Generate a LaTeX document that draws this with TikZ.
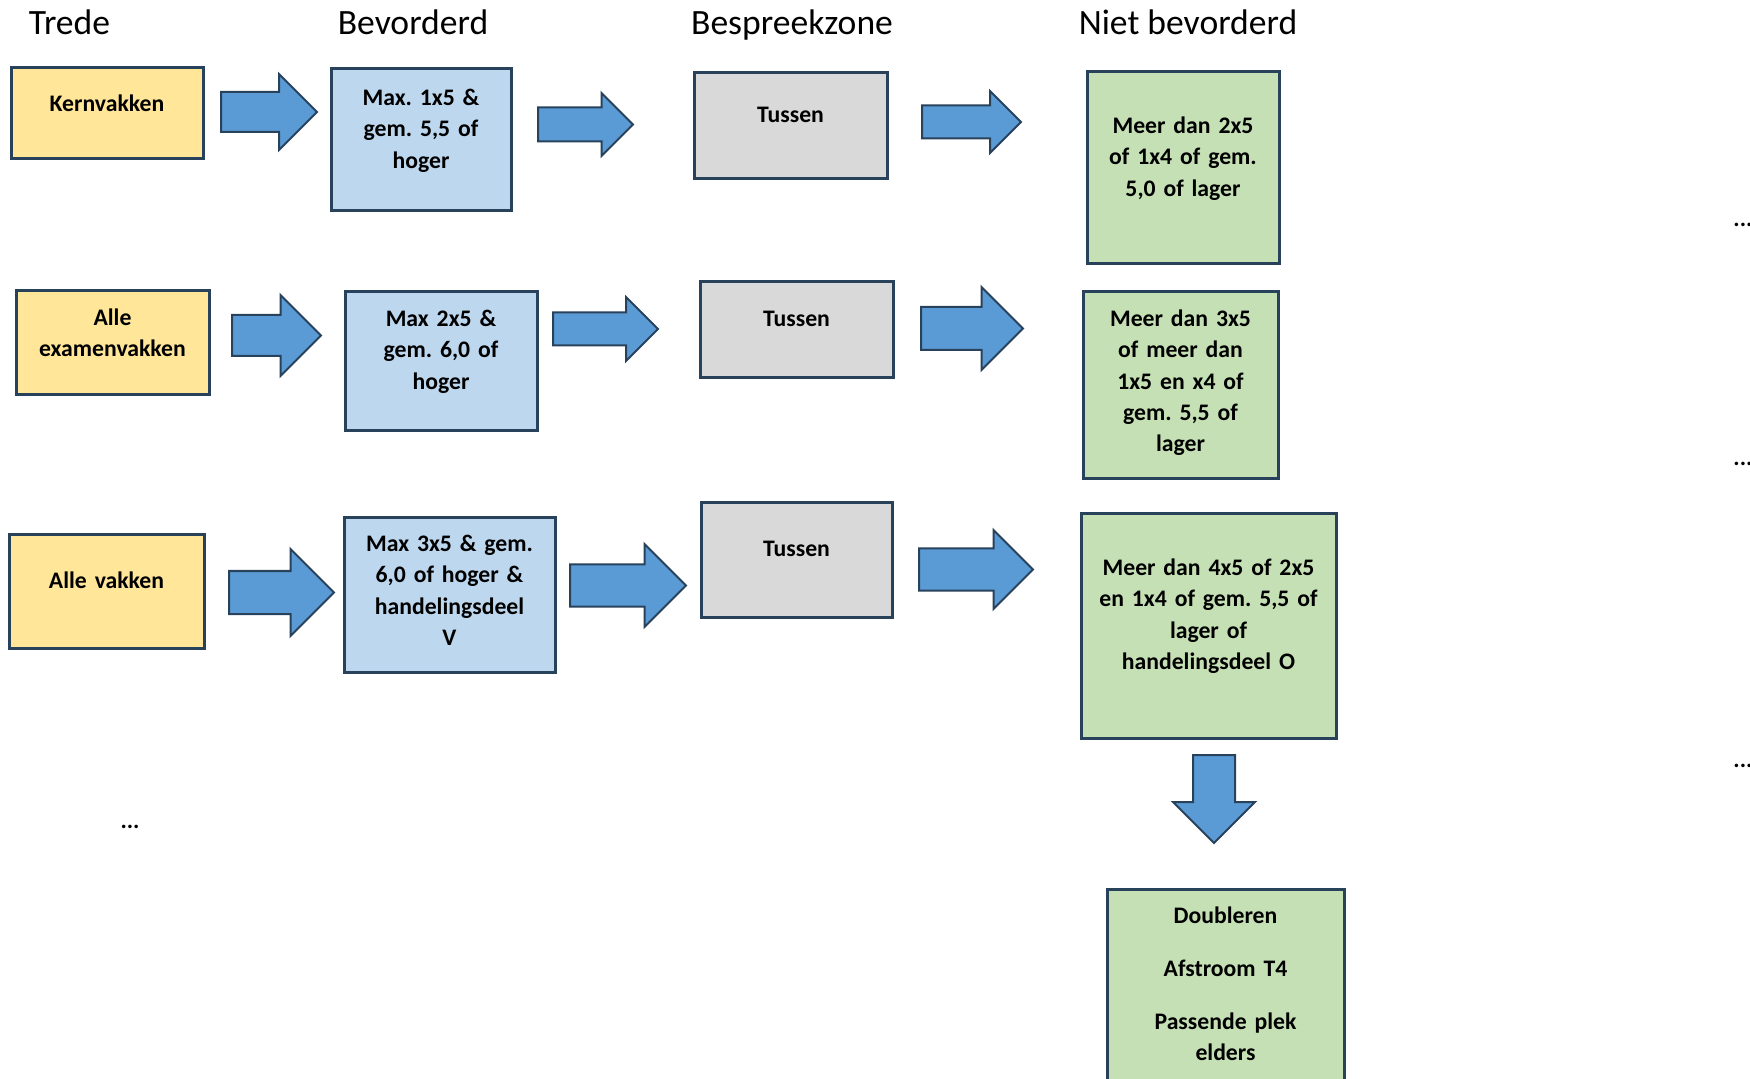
\documentclass[tikz,border=0pt]{standalone}
\usepackage{fontspec}
\setmainfont{Carlito}
\usetikzlibrary{shapes.arrows}
\frenchspacing
\definecolor{rand}{RGB}{40,66,92}
\definecolor{geel}{HTML}{FFE699}
\definecolor{lichtblauw}{HTML}{BDD7EE}
\definecolor{lichtgroen}{HTML}{C5E0B4}
\definecolor{lichtgrijs}{HTML}{D9D9D9}
\definecolor{pijlblauw}{HTML}{5B9BD5}
\newcommand{\vakfont}{\fontsize{11.85pt}{15.65pt}\selectfont\bfseries}
\newcommand{\kopfont}{\fontsize{17.8pt}{21pt}\selectfont}
\tikzstyle{vak} = [rectangle, draw=rand, line width=1.5pt, inner sep=0pt, anchor=north, text centered, font=\vakfont]
\tikzstyle{trede} = [vak, fill=geel]
\tikzstyle{bevorderd} = [vak, fill=lichtblauw]
\tikzstyle{bespreek} = [vak, fill=lichtgrijs]
\tikzstyle{nietbev} = [vak, fill=lichtgroen]
\tikzstyle{kop} = [inner sep=0pt, anchor=base, font=\kopfont]
\tikzstyle{puntjes} = [inner sep=0pt, font=\vakfont]
\tikzstyle{pijl} = [single arrow, draw=rand, fill=pijlblauw, line width=1pt, single arrow tip angle=90, inner xsep=0pt, minimum width=0pt, anchor=tail]

\begin{document}
\begin{tikzpicture}[x=0.5pt, y=-0.5pt]
\path[use as bounding box, clip] (0,0) rectangle (1750,1079);
% kopjes
\node (kTrede) [kop] at (69.5,35) {Trede};
\node (kBev) [kop] at (413,35) {Bevorderd};
\node (kBespreek) [kop] at (792,35) {Bespreekzone};
\node (kNiet) [kop] at (1188,35) {Niet bevorderd};
% rij 1
\node (kern) [trede, text width=96pt, text height=22pt, text depth=23.5pt] at (107,66) {Kernvakken};
\node (bev1) [bevorderd, text width=90pt, text height=18.5pt, text depth=52.5pt] at (421,67) {Max. 1x5 \&\\ gem. 5,5 of\\ hoger};
\node (tus1) [bespreek, text width=96.5pt, text height=25pt, text depth=28pt] at (790.5,71) {Tussen};
\node (niet1) [nietbev, text width=96pt, text height=31pt, text depth=65pt] at (1183,70) {Meer dan 2x5\\ of 1x4 of gem.\\ 5,0 of lager};
\node (p11) [pijl, minimum height=48pt, inner ysep=9.5pt, single arrow head extend=9pt] at (220,112) {};
\node (p12) [pijl, minimum height=47.5pt, inner ysep=8pt, single arrow head extend=7.25pt] at (537,124.5) {};
\node (p13) [pijl, minimum height=49.5pt, inner ysep=7.75pt, single arrow head extend=7.25pt] at (921,122) {};
% rij 2
\node (exam) [trede, text width=96.5pt, text height=17.5pt, text depth=34.5pt] at (112.5,289) {Alle\\ examenvakken};
\node (bev2) [bevorderd, text width=96pt, text height=17.5pt, text depth=52pt] at (441,290) {Max 2x5 \&\\ gem. 6,0 of\\ hoger};
\node (tus2) [bespreek, text width=96.5pt, text height=22.5pt, text depth=25.5pt] at (796.5,280) {Tussen};
\node (niet2) [nietbev, text width=97.5pt, text height=17.5pt, text depth=76pt] at (1180.5,290) {Meer dan 3x5\\ of meer dan\\ 1x5 en x4 of\\ gem. 5,5 of\\ lager};
\node (p21) [pijl, minimum height=44.5pt, inner ysep=9.75pt, single arrow head extend=10pt] at (231,335.5) {};
\node (p22) [pijl, minimum height=52.5pt, inner ysep=7.75pt, single arrow head extend=7.75pt] at (552,329) {};
\node (p23) [pijl, minimum height=51pt, inner ysep=10.25pt, single arrow head extend=10pt] at (920,328.5) {};
% rij 3
\node (alle) [trede, text width=97.5pt, text height=27pt, text depth=30pt] at (106.5,533) {Alle vakken};
\node (bev3) [bevorderd, text width=105.5pt, text height=17pt, text depth=60.5pt] at (449.5,516) {Max 3x5 \& gem.\\ 6,0 of hoger \&\\ handelingsdeel\\ V};
\node (tus3) [bespreek, text width=95.5pt, text height=27pt, text depth=30.5pt] at (796.5,501) {Tussen};
\node (niet3) [nietbev, text width=127.5pt, text height=31pt, text depth=81.5pt] at (1208.5,512) {Meer dan 4x5 of 2x5\\ en 1x4 of gem. 5,5 of\\ lager of\\ handelingsdeel O};
\node (p31) [pijl, minimum height=52.5pt, inner ysep=10.25pt, single arrow head extend=11pt] at (228,592.5) {};
\node (p32) [pijl, minimum height=58pt, inner ysep=10pt, single arrow head extend=10.25pt] at (569,585.5) {};
\node (p33) [pijl, minimum height=57pt, inner ysep=10pt, single arrow head extend=9.25pt] at (918,569.5) {};
% gevolg
\node (pOmlaag) [pijl, rotate=-90, minimum height=44pt, inner ysep=10pt, single arrow head extend=10pt] at (1214,754) {};
\node (gevolg) [nietbev, text width=118.5pt, text height=17pt, text depth=94pt] at (1225.5,888) {Doubleren\\[10.85pt] Afstroom T4\\[10.85pt] Passende plek\\ elders};
% puntjes
\node (meer) [puntjes, anchor=base] at (130,828) {...};
\node (r1) [puntjes, anchor=base west] at (1733,227) {...};
\node (r2) [puntjes, anchor=base west] at (1733,466) {...};
\node (r3) [puntjes, anchor=base west] at (1733,767) {...};
\end{tikzpicture}
\end{document}
